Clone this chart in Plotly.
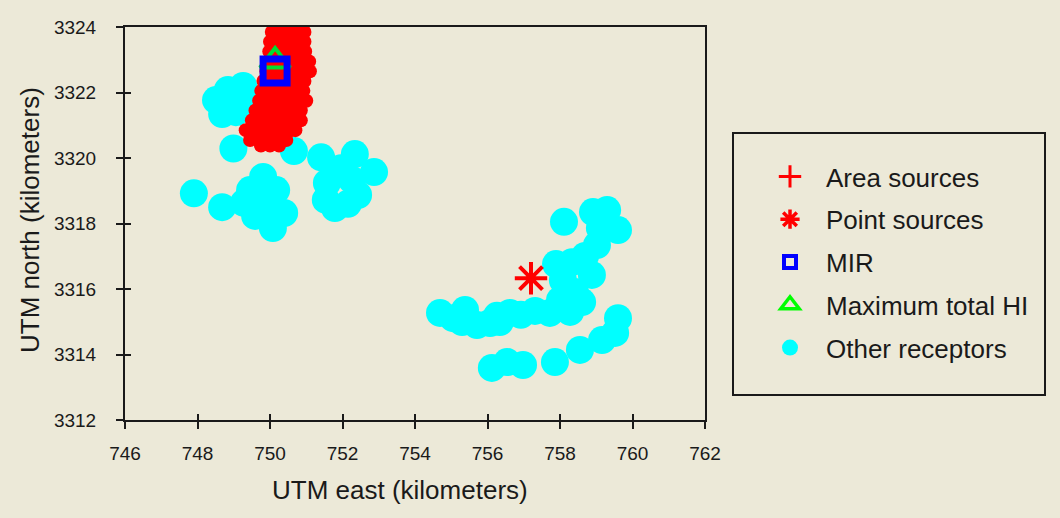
import plotly.graph_objects as go

# ---------------- data (km, UTM) ----------------
rec_east = [748.51, 748.84, 749.26, 748.68, 749.06, 749.31, 748.95,
            748.99, 747.90, 748.68,
            749.81, 749.45, 750.17, 749.28, 750.00, 750.39, 749.59, 750.08, 750.66,
            751.41, 752.34, 752.87, 751.57, 752.26, 752.43, 751.54, 751.79, 752.15, 751.96,
            758.11, 758.91, 759.30, 759.60, 759.10, 759.02, 758.69, 758.88, 758.33, 757.89,
            758.08, 758.41, 758.61, 758.00, 757.72, 758.28,
            756.92, 757.31, 756.34, 756.07, 755.71, 755.38, 755.05, 754.69, 755.30,
            756.26, 756.62,
            756.12, 756.54, 756.98, 757.86, 758.55, 759.16, 759.52, 759.60]
rec_north = [3321.77, 3322.08, 3322.20, 3321.34, 3321.40, 3321.77, 3321.71,
             3320.29, 3318.92, 3318.50,
             3319.42, 3319.02, 3319.02, 3318.63, 3318.63, 3318.32, 3318.23, 3317.86, 3320.21,
             3320.02, 3320.12, 3319.57, 3319.24, 3319.33, 3318.87, 3318.72, 3318.47, 3318.60, 3319.69,
             3318.05, 3318.35, 3318.41, 3317.80, 3317.86, 3317.34, 3317.01, 3316.43, 3316.82, 3316.76,
             3316.27, 3315.91, 3315.60, 3315.66, 3315.27, 3315.30,
             3315.21, 3315.33, 3314.99, 3314.96, 3314.90, 3315.36, 3315.11, 3315.27, 3314.99,
             3315.18, 3315.27,
             3313.59, 3313.77, 3313.68, 3313.77, 3314.14, 3314.44, 3314.66, 3315.11]

area_east = [750.05, 750.30, 750.55, 750.80, 750.95,
             750.05, 750.30, 750.55, 750.80, 750.95,
             750.00, 750.25, 750.50, 750.75, 750.95,
             749.98, 750.22, 750.47, 750.72, 750.97,
             749.95, 750.20, 750.45, 750.70, 750.95, 751.08,
             749.90, 750.15, 750.40, 750.65, 750.90, 751.10,
             749.82, 750.07, 750.32, 750.57, 750.82, 750.95,
             749.76, 750.00, 750.25, 750.50, 750.75, 750.92,
             749.70, 749.95, 750.20, 750.45, 750.70, 751.00,
             749.60, 749.85, 750.10, 750.35, 750.60, 750.85,
             749.50, 749.75, 750.00, 750.25, 750.50, 750.75, 750.85,
             749.33, 749.58, 749.83, 750.08, 750.33, 750.58, 750.70,
             749.45, 749.70, 749.95, 750.20, 750.45,
             749.75, 750.00, 750.25]
area_north = [3324.15] * 5 + [3323.85] * 5 + [3323.55] * 5 + [3323.25] * 5 + \
             [3322.95] * 6 + [3322.65] * 6 + [3322.35] * 6 + [3322.05] * 6 + \
             [3321.75] * 6 + [3321.45] * 6 + [3321.15] * 7 + [3320.85] * 7 + \
             [3320.55] * 5 + [3320.38] * 3

point_east = [757.20]
point_north = [3316.33]

mir_east = [750.14]
mir_north = [3322.66]

maxhi_east = [750.14]
maxhi_north = [3322.96]

legend_names = ["Area sources", "Point sources", "MIR", "Maximum total HI", "Other receptors"]
x_ticks = [746, 748, 750, 752, 754, 756, 758, 760, 762]
y_ticks = [3312, 3314, 3316, 3318, 3320, 3322, 3324]

# ---------------- styling ----------------
BG = "#ECE9D8"
INK = "#1a1a1a"
FONT = "Liberation Sans, Arial, sans-serif"
RED, BLUE, GREEN, CYAN = "#FF0000", "#0000FF", "#00DD33", "#00FFFF"

fig = go.Figure()

fig.add_trace(go.Scatter(x=rec_east, y=rec_north, mode="markers", showlegend=False,
                         marker=dict(symbol="circle", size=28, color=CYAN, line=dict(width=0))))
fig.add_trace(go.Scatter(x=area_east, y=area_north, mode="markers", showlegend=False,
                         marker=dict(symbol="circle", size=14, color=RED, line=dict(width=0))))
fig.add_trace(go.Scatter(x=point_east, y=point_north, mode="markers", showlegend=False,
                         marker=dict(symbol="asterisk-open", size=27, color=RED,
                                     line=dict(width=4, color=RED))))
fig.add_trace(go.Scatter(x=maxhi_east, y=maxhi_north, mode="markers", showlegend=False,
                         marker=dict(symbol="triangle-up-open", size=26, color=GREEN,
                                     line=dict(width=4, color=GREEN))))
fig.add_trace(go.Scatter(x=mir_east, y=mir_north, mode="markers", showlegend=False,
                         marker=dict(symbol="square-open", size=24, color=BLUE,
                                     line=dict(width=7, color=BLUE))))

# legend entries
leg_styles = [
    dict(symbol="cross-thin-open", size=16, color=RED, line=dict(width=3, color=RED)),
    dict(symbol="asterisk-open", size=16, color=RED, line=dict(width=3.5, color=RED)),
    dict(symbol="square-open", size=12, color=BLUE, line=dict(width=4, color=BLUE)),
    dict(symbol="triangle-up-open", size=16, color="#00FF00", line=dict(width=3.5, color="#00FF00")),
    dict(symbol="circle", size=16, color=CYAN, line=dict(width=0)),
]
for name, st in zip(legend_names, leg_styles):
    fig.add_trace(go.Scatter(x=[None], y=[None], mode="markers", name=name,
                             legendgroup=name, marker=st, hoverinfo="skip"))

# dummy trace for inner-tick overlay axes
fig.add_trace(go.Scatter(x=[None], y=[None], xaxis="x2", yaxis="y2",
                         showlegend=False, hoverinfo="skip"))

L, R, T, B = 125, 705, 27, 420
W, H = 1060, 518
pw, ph = R - L, B - T

def px_x(p):
    return (p - L) / pw

def px_y(p):
    return (B - p) / ph

axis_common = dict(showgrid=False, zeroline=False, showline=True, linecolor=INK,
                   linewidth=2, mirror=True, ticks="outside", ticklen=7,
                   tickwidth=1.5, tickcolor=INK,
                   tickfont=dict(family=FONT, size=19, color=INK))

fig.update_layout(
    width=W, height=H,
    margin=dict(l=L, r=W - R, t=T, b=H - B, pad=0),
    paper_bgcolor=BG, plot_bgcolor=BG,
    font=dict(family=FONT, color=INK),
    xaxis=dict(range=[746, 762], tickvals=x_ticks, ticklabelstandoff=8, **axis_common),
    yaxis=dict(range=[3312, 3324], tickvals=y_ticks, ticklabelstandoff=16, **axis_common),
    xaxis2=dict(overlaying="x", matches="x", anchor="y2", side="bottom",
                showgrid=False, zeroline=False, showline=False, showticklabels=False,
                ticks="inside", ticklen=6, tickwidth=1.5, tickcolor=INK, tickvals=x_ticks),
    yaxis2=dict(overlaying="y", matches="y", anchor="x2", side="left",
                showgrid=False, zeroline=False, showline=False, showticklabels=False,
                ticks="inside", ticklen=6, tickwidth=1.5, tickcolor=INK, tickvals=y_ticks),
    legend=dict(x=px_x(754), y=px_y(153), xanchor="left", yanchor="top",
                bgcolor="rgba(0,0,0,0)", borderwidth=0, itemwidth=62,
                traceorder="grouped", tracegroupgap=6,
                font=dict(family=FONT, size=26, color=INK)),
    shapes=[dict(type="rect", xref="paper", yref="paper",
                 x0=px_x(733), x1=px_x(1045), y0=px_y(395), y1=px_y(133),
                 line=dict(color=INK, width=2), fillcolor="rgba(0,0,0,0)", layer="above")],
    annotations=[
        dict(text="UTM east (kilometers)", xref="paper", yref="paper",
             x=px_x(400), y=px_y(490), xanchor="center", yanchor="middle",
             showarrow=False, font=dict(family=FONT, size=26, color=INK)),
        dict(text="UTM north (kilometers)", xref="paper", yref="paper",
             x=px_x(30), y=px_y(220), xanchor="center", yanchor="middle", textangle=-90,
             showarrow=False, font=dict(family=FONT, size=26, color=INK)),
    ],
)

fig.write_html("out.html", config={"displayModeBar": False},
               post_script="document.body.style.margin='0px';")
